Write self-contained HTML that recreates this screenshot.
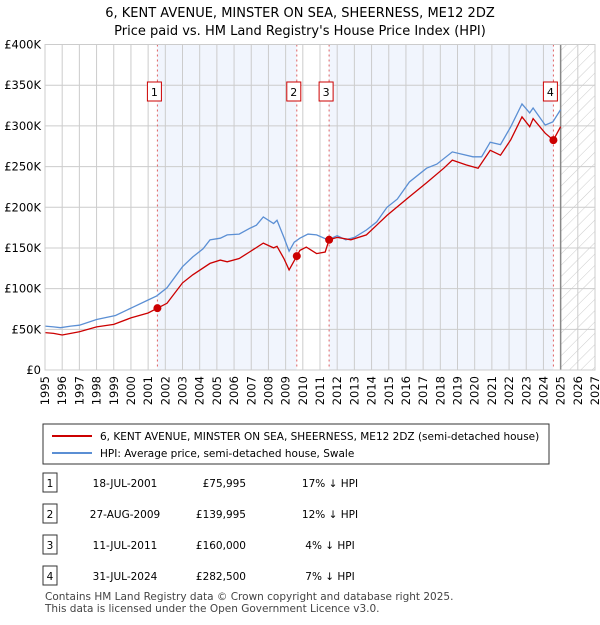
<!DOCTYPE html>
<html><head><meta charset="utf-8"><style>
body{margin:0;background:#fff;font-family:"Liberation Sans","DejaVu Sans",sans-serif;}
svg text{font-family:"DejaVu Sans","Liberation Sans",sans-serif;}
</style></head><body>
<svg id="c" width="600" height="620" xmlns="http://www.w3.org/2000/svg">
<defs><pattern id="hatch" width="8" height="8" patternUnits="userSpaceOnUse" patternTransform="rotate(45)"><rect width="8" height="8" fill="#fff"/><line x1="0" y1="0" x2="0" y2="8" stroke="#ccc" stroke-width="1"/></pattern></defs>
<text x="300" y="17" text-anchor="middle" font-size="13">6, KENT AVENUE, MINSTER ON SEA, SHEERNESS, ME12 2DZ</text>
<text x="300" y="35" text-anchor="middle" font-size="13">Price paid vs. HM Land Registry's House Price Index (HPI)</text>
<g id="plot"></g>
<g>
<rect x="43" y="424" width="506" height="40" fill="#fff" stroke="#333"/>
<line x1="52" y1="436" x2="92" y2="436" stroke="#cc0000" stroke-width="2"/>
<text x="100" y="440" font-size="10.5">6, KENT AVENUE, MINSTER ON SEA, SHEERNESS, ME12 2DZ (semi-detached house)</text>
<line x1="52" y1="453" x2="92" y2="453" stroke="#5b8fd4" stroke-width="2"/>
<text x="100" y="457" font-size="10.5">HPI: Average price, semi-detached house, Swale</text>
</g>
<g id="tbl" font-size="10.5"></g>
<text x="45" y="600" font-size="10.5" fill="#444">Contains HM Land Registry data © Crown copyright and database right 2025.</text>
<text x="45" y="612" font-size="10.5" fill="#444">This data is licensed under the Open Government Licence v3.0.</text>
</svg>
<script>
const hpiYears=[1995,1995.5,1995.9,1996.5,1997,1998,1999.1,2000.1,2001,2001.5,2002.1,2003,2003.6,2004.2,2004.6,2005.2,2005.6,2006.3,2006.9,2007.3,2007.7,2008.3,2008.5,2008.9,2009.2,2009.5,2009.83,2010.3,2010.8,2011.46,2012,2012.5,2013,2013.7,2014.3,2014.9,2015.5,2016.2,2017.2,2017.8,2018.7,2019.3,2019.9,2020.4,2020.9,2021.5,2022.1,2022.75,2023.2,2023.4,2024.1,2024.55,2025];
const hpiValues=[54,53,52,54,55,62,67,77,86,91,101,127,139,149,160,162,166,167,174,178,188,180,184,163,146,157,162,167,166,160,165,160,163,172,182,200,210,231,248,253,268,265,262,262,280,277,299,327,316,322,301,305,320];
const ppYears=[1995,1995.5,1996,1997,1998,1999,2000,2001,2001.54,2002.1,2003,2003.6,2004.6,2005.2,2005.6,2006.3,2006.9,2007.7,2008.3,2008.5,2008.9,2009.2,2009.65,2009.83,2010.2,2010.8,2011.3,2011.53,2012,2012.8,2013.7,2014.3,2014.9,2016.2,2017.2,2018.2,2018.7,2019.5,2020.2,2020.9,2021.5,2022.1,2022.75,2023.2,2023.4,2024.1,2024.58,2025];
const ppValues=[46,45,43,47,53,56,64,70,76,82,107,117,131,135,133,137,145,156,150,152,137,123,140,147,151,143,145,160,163,160,166,178,190,213,230,248,258,252,248,270,264,283,311,299,309,291,282.5,299];
const saleYears=[2001.54,2009.65,2011.53,2024.58];
const saleValues=[75995,139995,160000,282500];
const saleLabels=["1","2","3","4"];
const saleDates=["18-JUL-2001","27-AUG-2009","11-JUL-2011","31-JUL-2024"];
const salePrices=["£75,995","£139,995","£160,000","£282,500"];
const saleDiffs=["17% ↓ HPI","12% ↓ HPI","4% ↓ HPI","7% ↓ HPI"];
const yTicks=[0,50,100,150,200,250,300,350,400];
const yTickLabels=["£0","£50K","£100K","£150K","£200K","£250K","£300K","£350K","£400K"];
const xTicks=[1995,1996,1997,1998,1999,2000,2001,2002,2003,2004,2005,2006,2007,2008,2009,2010,2011,2012,2013,2014,2015,2016,2017,2018,2019,2020,2021,2022,2023,2024,2025,2026,2027];

const NS="http://www.w3.org/2000/svg";
const X0=45,X1=595,Y0=370,Y1=44.5;
const xs=y=>X0+(y-1995)/(2027-1995)*(X1-X0);
const ys=v=>Y0-v/400*(Y0-Y1);
const plot=document.getElementById('plot');
function mk(tag,a,parent){const e=document.createElementNS(NS,tag);for(const k in a)e.setAttribute(k,a[k]);(parent||plot).appendChild(e);return e;}
let e;
e=mk('rect',{x:X0,y:Y1,width:X1-X0,height:Y0-Y1,fill:'#fff'});


[[0,1],[2,3]].forEach(p=>{const r=mk('rect',{x:xs(saleYears[p[0]]),y:Y1,width:xs(saleYears[p[1]])-xs(saleYears[p[0]]),height:Y0-Y1,fill:'#eef3fd',opacity:0.8});

});
e=mk('rect',{x:xs(2025),y:Y1,width:X1-xs(2025),height:Y0-Y1,fill:'url(#hatch)'});


xTicks.forEach(t=>{const l=mk('line',{x1:xs(t),x2:xs(t),y1:Y1,y2:Y0,stroke:'#ccc'});


const tx=mk('text',{x:0,y:0,'font-size':11.5,'text-anchor':'end',transform:`translate(${xs(t)+4},${Y0+6}) rotate(-90)`});tx.textContent=t;

});
yTicks.forEach((t,i)=>{const l=mk('line',{x1:X0,x2:X1,y1:ys(t),y2:ys(t),stroke:'#ccc'});


const tx=mk('text',{x:X0-4,y:ys(t)+4,'font-size':11.5,'text-anchor':'end'});tx.textContent=yTickLabels[i];

});
e=mk('line',{x1:xs(2025),x2:xs(2025),y1:Y1,y2:Y0,stroke:'#888','stroke-width':1.5});


saleYears.forEach(s=>{const l=mk('line',{x1:xs(s),x2:xs(s),y1:Y1,y2:Y0,stroke:'#e06060','stroke-dasharray':'2,3'});

});
function path(xa,va,col,name){const d=xa.map((x,i)=>(i?'L':'M')+xs(x).toFixed(1)+','+ys(va[i]).toFixed(1)).join('');
const p=mk('path',{d:d,fill:'none',stroke:col,'stroke-width':1.3});

}
path(hpiYears,hpiValues,'#5b8fd4','hpi-line');
path(ppYears,ppValues,'#cc0000','price-paid-line');
saleYears.forEach((s,i)=>{const c=mk('circle',{cx:xs(s),cy:ys(saleValues[i]/1000),r:4,fill:'#cc0000'});


const r=mk('rect',{x:xs(s)-10,y:82,width:14,height:19,fill:'#fff',stroke:'#cc0000'});


const t=mk('text',{x:xs(s)-3,y:96,'font-size':11,'text-anchor':'middle'});t.textContent=saleLabels[i];

});
e=mk('rect',{x:X0,y:Y1,width:X1-X0,height:Y0-Y1,fill:'none',stroke:'#ccc'});


const tbl=document.getElementById('tbl');
const rowY=[483,514,545,576];
saleLabels.forEach((l,i)=>{const y=rowY[i];
const r=mk('rect',{x:43,y:y-10,width:14,height:19,fill:'#fff',stroke:'#333'},tbl);


const cols=[[50,l,'middle'],[125,saleDates[i],'middle'],[246,salePrices[i],'end'],[330,saleDiffs[i],'middle']];
cols.forEach((c,j)=>{const t=mk('text',{x:c[0],y:y+4,'text-anchor':c[2]},tbl);t.textContent=c[1];

});});
</script>
</body></html>
